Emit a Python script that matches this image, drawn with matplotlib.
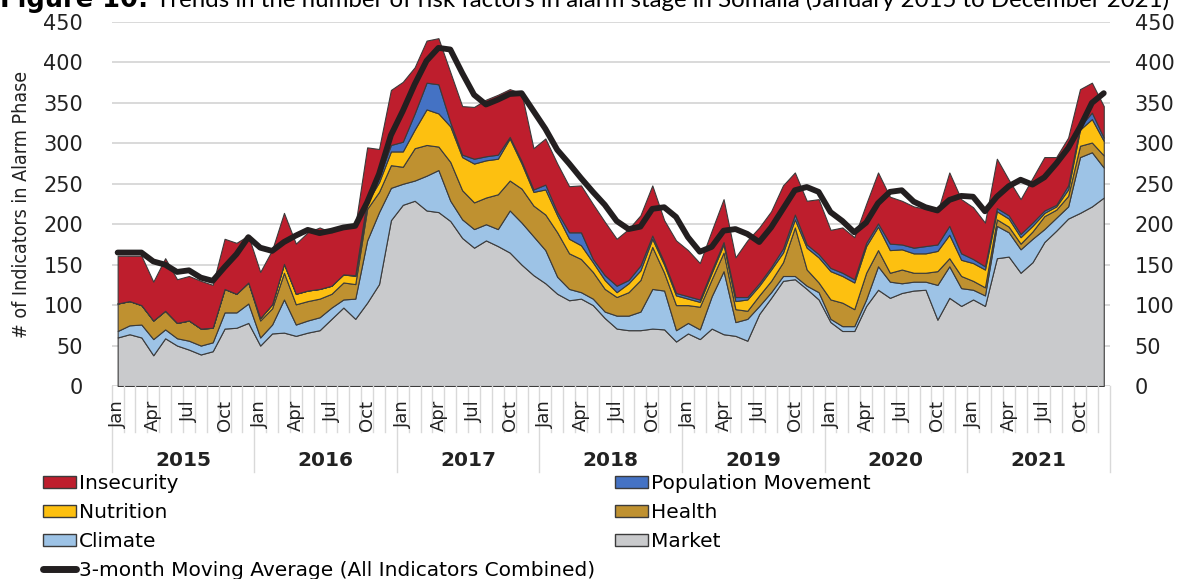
import numpy as np
import matplotlib
matplotlib.use("Agg")
import matplotlib.pyplot as plt
import matplotlib.transforms as mtransforms
from matplotlib import font_manager
from matplotlib.lines import Line2D
from matplotlib.patches import Patch

# one row per year, Jan..Dec, 2015-2021
years = ["2015", "2016", "2017", "2018", "2019", "2020", "2021"]
month_names = ["Jan", "Apr", "Jul", "Oct"]

market = [
    60, 64, 60, 38, 59, 50, 45, 39, 43, 71, 72, 78,
    50, 65, 66, 62, 66, 69, 83, 97, 83, 103, 126, 205,
    224, 229, 217, 215, 204, 183, 171, 180, 173, 165, 150, 137,
    127, 114, 106, 108, 100, 84, 71, 69, 69, 71, 70, 55,
    65, 58, 71, 64, 62, 56, 89, 109, 130, 132, 120, 107,
    79, 68, 68, 99, 119, 109, 115, 118, 119, 82, 109, 99,
    107, 99, 158, 160, 140, 153, 178, 192, 207, 214, 222, 233,
]
climate = [
    8, 11, 16, 20, 11, 9, 11, 11, 11, 20, 19, 24,
    10, 11, 41, 14, 15, 16, 14, 10, 25, 77, 89, 40,
    26, 25, 43, 52, 25, 23, 23, 20, 21, 52, 52, 48,
    41, 21, 14, 8, 8, 8, 16, 18, 23, 49, 48, 14,
    13, 12, 40, 78, 17, 27, 10, 7, 6, 4, 4, 9,
    4, 6, 6, 8, 29, 20, 12, 11, 10, 43, 39, 22,
    12, 13, 40, 30, 29, 29, 16, 16, 15, 69, 67, 37,
]
health = [
    34, 30, 24, 23, 23, 19, 25, 21, 18, 29, 23, 26,
    21, 20, 33, 25, 24, 23, 17, 21, 18, 39, 25, 28,
    21, 40, 38, 29, 48, 36, 33, 33, 43, 37, 42, 38,
    44, 55, 44, 41, 33, 28, 23, 29, 39, 52, 22, 31,
    22, 28, 21, 23, 16, 10, 13, 14, 17, 60, 20, 12,
    24, 29, 21, 33, 20, 11, 17, 11, 11, 17, 10, 15,
    11, 10, 8, 7, 7, 9, 16, 10, 13, 14, 12, 15,
]
nutrition = [
    0, 0, 0, 0, 0, 0, 0, 0, 0, 0, 0, 0,
    3, 5, 11, 13, 13, 12, 10, 10, 10, 8, 12, 17,
    19, 23, 44, 41, 44, 41, 48, 46, 44, 52, 31, 17,
    31, 21, 18, 17, 12, 11, 6, 11, 12, 10, 10, 12,
    8, 6, 8, 10, 10, 14, 12, 14, 12, 10, 27, 31,
    35, 33, 33, 33, 29, 28, 25, 24, 24, 25, 29, 20,
    22, 22, 10, 10, 8, 7, 4, 4, 8, 20, 29, 18,
]
population = [
    0, 0, 0, 0, 0, 0, 0, 0, 0, 0, 0, 0,
    0, 0, 0, 0, 0, 0, 0, 0, 1, 5, 6, 8,
    12, 20, 33, 36, 5, 3, 6, 5, 5, 2, 3, 3,
    6, 4, 8, 16, 4, 6, 8, 4, 6, 4, 3, 3,
    3, 3, 3, 3, 5, 3, 3, 3, 5, 6, 4, 4,
    4, 4, 4, 4, 4, 8, 6, 7, 9, 8, 11, 8,
    5, 4, 4, 4, 4, 4, 3, 2, 5, 4, 8, 4,
]
insecurity = [
    59, 56, 61, 48, 65, 54, 55, 59, 53, 62, 63, 58,
    57, 67, 63, 62, 72, 76, 66, 61, 61, 63, 35, 68,
    74, 57, 52, 57, 62, 60, 64, 70, 74, 59, 84, 51,
    57, 60, 57, 58, 68, 66, 58, 63, 62, 62, 52, 65,
    57, 45, 49, 53, 49, 70, 69, 69, 78, 52, 54, 68,
    47, 56, 52, 48, 63, 58, 54, 51, 46, 40, 66, 67,
    64, 54, 61, 44, 43, 55, 66, 59, 59, 46, 37, 39,
]
moving_avg = [
    165, 165, 165, 154, 150, 141, 143, 134, 130, 147, 163, 184,
    171, 167, 178, 186, 193, 189, 192, 196, 198, 227, 262, 310,
    340, 373, 402, 418, 416, 387, 360, 348, 354, 361, 362, 340,
    318, 292, 275, 257, 240, 224, 204, 194, 197, 219, 221, 209,
    184, 166, 172, 192, 194, 188, 178, 196, 219, 242, 246, 240,
    215, 204, 190, 202, 226, 240, 242, 228, 221, 217, 230, 235,
    234, 216, 234, 247, 255, 249, 258, 275, 294, 320, 350, 362,
]

colors = ["#c9cacc", "#9dc3e6", "#bf9130", "#fdc010", "#4472c4", "#be1e2d"]
edge = "#3b3b3b"

# narrow face for the y label if one is installed
fl = font_manager.fontManager.ttflist
names_avail = {f.name for f in fl}
if "Liberation Sans Narrow" in names_avail:
    ylab_font = dict(family="Liberation Sans Narrow", fontsize=15)
elif any(f.name == "DejaVu Sans" and f.stretch == "condensed" for f in fl):
    ylab_font = dict(family="DejaVu Sans", fontstretch="condensed", fontsize=14)
else:
    ylab_font = dict(family="DejaVu Sans", fontsize=12.8)

fig = plt.figure(figsize=(11.78, 5.79), dpi=100)
ax = fig.add_axes([111.7 / 1178, 1 - 386 / 579, 998 / 1178, 364 / 579])

x = np.arange(len(market))
ax.stackplot(x, market, climate, health, nutrition, population, insecurity,
             colors=colors, edgecolor=edge, linewidth=0.8, zorder=2)
ax.plot(x, moving_avg, color="#231f20", lw=4.2, solid_joinstyle="round",
        solid_capstyle="round", zorder=3)

ax.set_xlim(-0.5, len(x) - 0.5)
ax.set_ylim(0, 450)
ax.set_yticks(range(0, 451, 50))
ax.set_xticks([])
ax.grid(axis="y", color="#d9d9d9", lw=1.4, zorder=0)
ax.set_axisbelow(True)
for s in ax.spines.values():
    s.set_visible(False)
ax.tick_params(axis="y", length=0, labelsize=15, pad=20.5, labelcolor="#222222")

ax2 = ax.twinx()
ax2.set_ylim(0, 450)
ax2.set_yticks(range(0, 451, 50))
ax2.tick_params(axis="y", length=0, labelsize=15, pad=18, labelcolor="#222222")
for s in ax2.spines.values():
    s.set_visible(False)

ax.set_ylabel("# of Indicators in Alarm Phase", color="#222222", labelpad=9,
              **ylab_font)

# multi-level category axis: months, then years
xt = ax.get_xaxis_transform()
for i in range(len(x)):
    if i % 3 == 0:
        t = mtransforms.offset_copy(xt, fig=fig, y=-14, units="dots")
        ax.text(i, 0, month_names[(i % 12) // 3], transform=t, rotation=90,
                ha="center", va="top", fontsize=13, color="#222222")
for i in range(len(x) + 1):
    depth = -86 if i % 12 == 0 else -46
    ax.add_line(Line2D([i - 0.5, i - 0.5], [0, depth / 364], transform=xt,
                       color="#d9d9d9", lw=1, clip_on=False))
for k, yr in enumerate(years):
    t = mtransforms.offset_copy(xt, fig=fig, y=-74, units="dots")
    ax.text(k * 12 + 5.5, 0, yr, transform=t, ha="center", va="center",
            fontsize=14.5, weight="semibold", color="#222222")

# legend
handles = [
    Patch(facecolor=colors[5], edgecolor=edge, lw=1, label="Insecurity"),
    Patch(facecolor=colors[3], edgecolor=edge, lw=1, label="Nutrition"),
    Patch(facecolor=colors[1], edgecolor=edge, lw=1, label="Climate"),
    Line2D([], [], color="#231f20", lw=5, solid_capstyle="round",
           label="3-month Moving Average (All Indicators Combined)"),
    Patch(facecolor=colors[4], edgecolor=edge, lw=1, label="Population Movement"),
    Patch(facecolor=colors[2], edgecolor=edge, lw=1, label="Health"),
    Patch(facecolor=colors[0], edgecolor=edge, lw=1, label="Market"),
]
fig.legend(handles=handles, ncol=2, loc="upper left",
           bbox_to_anchor=(43 / 1178, 1 - 474 / 579), frameon=False,
           fontsize=14.5, handlelength=1.65, handleheight=0.6,
           handletextpad=0.12, columnspacing=1.0, labelspacing=0.5,
           borderpad=0, borderaxespad=0)

# title, cut off at the top edge like the source image
fig.text(0.0, 1 - 7 / 579, "Figure 10:", family="DejaVu Sans",
         weight="bold", fontsize=18.5, va="baseline", ha="left")
fig.text(156 / 1178, 1 - 7 / 579,
         "Trends in the number of risk factors in alarm stage in Somalia "
         "(January 2015 to December 2021)",
         family="Lato", fontsize=17.3, va="baseline", ha="left")

fig.savefig("out.png", dpi=100)
